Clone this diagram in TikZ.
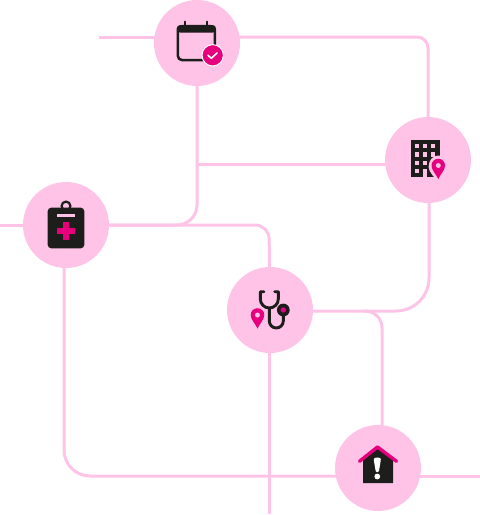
\documentclass[tikz,border=0pt]{standalone}
\usetikzlibrary{backgrounds}
\definecolor{pnk}{HTML}{FFC3E8}
\definecolor{mag}{HTML}{E6007E}
\definecolor{blk}{HTML}{1D1D1B}
\tikzset{
  hub/.style={circle,fill=pnk,minimum size=86pt,inner sep=0pt,outer sep=0pt},
  conn/.style={draw=pnk,line width=3pt},
  iconline/.style={draw=blk,line width=2.9pt,line cap=round,line join=round},
}
\newcommand{\mappin}[3]{% x, y of head centre, hole colour
  \fill[mag] (#1-6.8,#2) arc[start angle=180,end angle=0,radius=6.8pt]
     .. controls (#1+6.8,#2+4.5) and (#1+2,#2+9) .. (#1,#2+13.5)
     .. controls (#1-2,#2+9) and (#1-6.8,#2+4.5) .. (#1-6.8,#2) -- cycle;
  \fill[#3] (#1,#2) circle[radius=2.5pt];
}
\begin{document}
\begin{tikzpicture}[x=1pt,y=-1pt]
\useasboundingbox (0,0) rectangle (480,515);
\node[hub] (cal) at (197,43) {};
\node[hub] (bld) at (428,160) {};
\node[hub] (clip) at (66,225) {};
\node[hub] (ste) at (270,310) {};
\node[hub] (hom) at (378,468) {};
\coordinate (f1) at (99,37);
\coordinate (f2) at (0,225);
\coordinate (f3) at (269,514);
\coordinate (f4) at (480,476);
\coordinate (j1) at (197,164);
\coordinate (j2) at (364,311);
\begin{scope}[on background layer]
  \draw[conn] (f1) -- (f1 -| cal.center);
  \draw[conn,rounded corners=11pt] (cal.center |- f1) -- (428,37) -- (bld.center);
  \draw[conn,rounded corners=20pt] (cal.center) -- (197,225) -- (clip.center);
  \draw[conn] (j1) -- (bld.center |- j1);
  \draw[conn] (f2) -- (f2 -| clip.center);
  \draw[conn,rounded corners=14pt] (clip.center) -- (269,225) -- (ste.center);
  \draw[conn] (ste.center -| f3) -- (f3);
  \draw[conn,rounded corners=33pt] (429,160) -- (429,311) -- (ste.center |- j2);
  \draw[conn,rounded corners=17pt] (j2) -- (382,311) -- (382,468);
  \draw[conn,rounded corners=26pt] (64,225) -- (64,476) -- (hom.center |- f4);
  \draw[conn] (hom.center |- f4) -- (f4);
\end{scope}
% calendar
\draw[blk,line width=2.5pt,rounded corners=4pt] (177.9,26.2) rectangle (214.8,60);
\fill[blk,rounded corners=3.5pt] (176.7,25) -- (216,25) -- (216,32.6) -- (176.7,32.6) -- cycle;
\draw[iconline,line width=2pt] (184.7,25) -- (184.7,21.5);
\draw[iconline,line width=2pt] (207,25) -- (207,21.5);
\fill[mag,draw=white,line width=1pt] (212.7,55.3) circle[radius=10.7pt];
\draw[white,line width=1.6pt,line cap=round,line join=round] (208,55.3) -- (211.3,58.3) -- (217,53);
% building
\fill[blk] (410.7,140) rectangle (440,176.7);
\foreach \xx in {415,422.8,431}
  \foreach \yy in {144.2,152.4,160.6}
    \fill[pnk] (\xx,\yy) rectangle +(4.1,4.1);
\fill[pnk] (415,168.7) rectangle +(4.1,4.1);
\fill[pnk] (422.8,168.7) rectangle +(4.1,8);
\fill[pnk] (428.6,167) .. controls (428.6,160) and (433,155.5) .. (438.3,155.5)
   .. controls (444,155.5) and (448,160) .. (448,166)
   .. controls (448,171) and (441,178) .. (438.3,182)
   .. controls (435,178) and (428.6,172) .. (428.6,167) -- cycle;
\mappin{438.3}{165.5}{pnk}
% clipboard
\draw[blk,line width=2.2pt] (66,206) circle[radius=4.4pt];
\fill[blk,rounded corners=3.5pt] (47.7,207.7) rectangle (84.3,248.3);
\fill[pnk] (56.7,213.5) rectangle (75,216.5);
\fill[mag] (62.7,221.5) rectangle (68.9,240);
\fill[mag] (56.5,227.7) rectangle (75,233.9);
% stethoscope
\draw[iconline] (264,291.7) -- (260.3,291.7) -- (260.3,299) arc[start angle=180,end angle=360,radius=9pt] -- (278.3,291.7) -- (274.7,291.7);
\draw[iconline] (269.3,308) -- (269.3,321) arc[start angle=180,end angle=360,radius=7pt] -- (283.3,315);
\fill[blk] (283.3,310) circle[radius=6.4pt];
\fill[mag] (283.3,310) circle[radius=2.7pt];
\mappin{257.5}{315}{pnk}
% house
\fill[blk] (363,483) -- (363,458) -- (378,447) -- (393,458) -- (393,483) -- cycle;
\draw[mag,line width=3.4pt,line cap=round,line join=round] (359.5,461.3) -- (377.5,447) -- (396.5,461.3);
\fill[white,rounded corners=1pt] (373.8,460) .. controls (373.8,457) and (380.8,457) .. (380.8,460) -- (378.8,472) -- (375.8,472) -- cycle;
\fill[white] (377.3,476.5) circle[radius=2.9pt];
\end{tikzpicture}
\end{document}
